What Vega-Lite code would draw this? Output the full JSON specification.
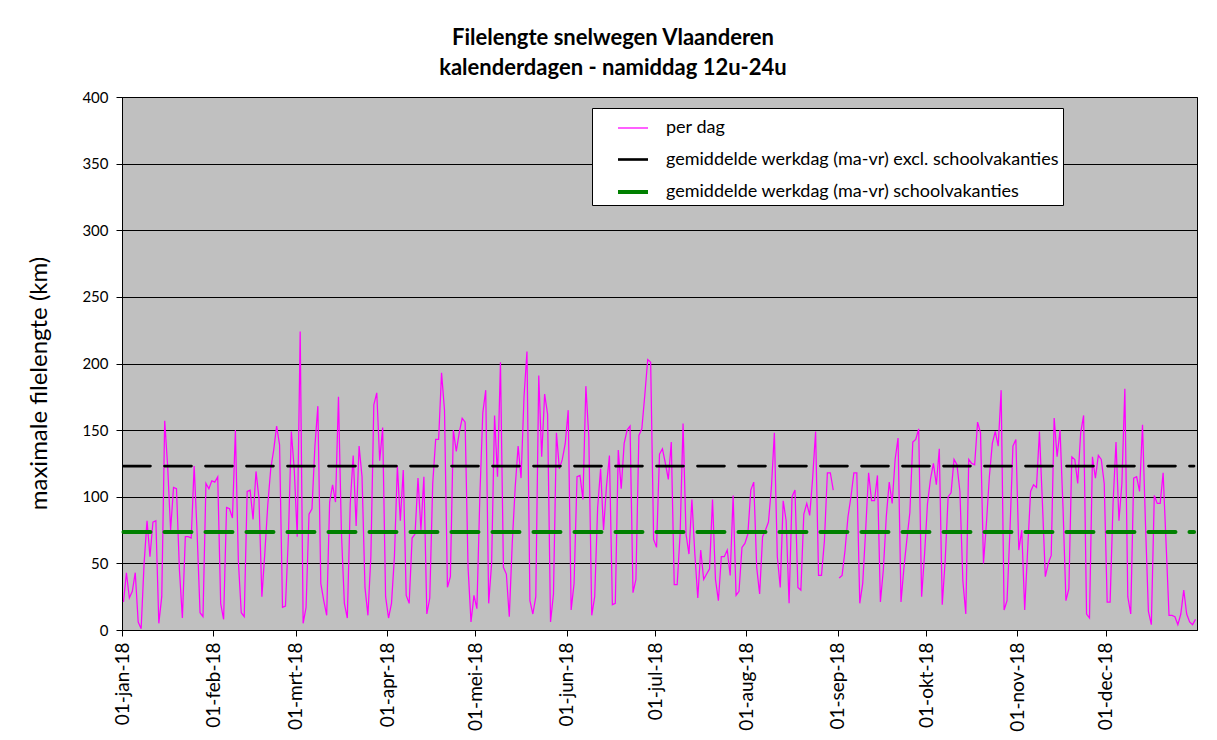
{
  "$schema": "https://vega.github.io/schema/vega-lite/v6.json",
  "width": 1075,
  "height": 533,
  "autosize": {"type": "none"},
  "padding": {"left": 122, "top": 97, "right": 20, "bottom": 110},
  "background": "white",
  "config": {
    "font": "Lato",
    "view": {"fill": "#C0C0C0", "stroke": "#000000", "strokeWidth": 1}
  },
  "title": {
    "text": ["Filelengte snelwegen Vlaanderen", "kalenderdagen - namiddag 12u-24u"],
    "fontSize": 22,
    "fontWeight": "bold",
    "font": "Lato",
    "color": "#000000",
    "anchor": "middle",
    "frame": "bounds",
    "lineHeight": 30,
    "offset": 10
  },
  "datasets": {
    "daily": [
      {"datum":"2018-01-01","km":21},{"datum":"2018-01-02","km":43},{"datum":"2018-01-03","km":24},{"datum":"2018-01-04","km":29},{"datum":"2018-01-05","km":43},{"datum":"2018-01-06","km":6},{"datum":"2018-01-07","km":1},{"datum":"2018-01-08","km":50},{"datum":"2018-01-09","km":82},{"datum":"2018-01-10","km":55},{"datum":"2018-01-11","km":81},{"datum":"2018-01-12","km":82},{"datum":"2018-01-13","km":5},{"datum":"2018-01-14","km":25},{"datum":"2018-01-15","km":157},{"datum":"2018-01-16","km":123},{"datum":"2018-01-17","km":75},{"datum":"2018-01-18","km":107},{"datum":"2018-01-19","km":106},{"datum":"2018-01-20","km":45},{"datum":"2018-01-21","km":9},{"datum":"2018-01-22","km":70},{"datum":"2018-01-23","km":70},{"datum":"2018-01-24","km":69},{"datum":"2018-01-25","km":123},{"datum":"2018-01-26","km":73},{"datum":"2018-01-27","km":13},{"datum":"2018-01-28","km":10},{"datum":"2018-01-29","km":110},{"datum":"2018-01-30","km":106},{"datum":"2018-01-31","km":112},
      {"datum":"2018-02-01","km":111},{"datum":"2018-02-02","km":115},{"datum":"2018-02-03","km":20},{"datum":"2018-02-04","km":8},{"datum":"2018-02-05","km":92},{"datum":"2018-02-06","km":91},{"datum":"2018-02-07","km":84},{"datum":"2018-02-08","km":150},{"datum":"2018-02-09","km":52},{"datum":"2018-02-10","km":13},{"datum":"2018-02-11","km":10},{"datum":"2018-02-12","km":104},{"datum":"2018-02-13","km":105},{"datum":"2018-02-14","km":83},{"datum":"2018-02-15","km":119},{"datum":"2018-02-16","km":99},{"datum":"2018-02-17","km":25},{"datum":"2018-02-18","km":58},{"datum":"2018-02-19","km":94},{"datum":"2018-02-20","km":121},{"datum":"2018-02-21","km":135},{"datum":"2018-02-22","km":153},{"datum":"2018-02-23","km":139},{"datum":"2018-02-24","km":17},{"datum":"2018-02-25","km":18},{"datum":"2018-02-26","km":70},{"datum":"2018-02-27","km":149},{"datum":"2018-02-28","km":120},
      {"datum":"2018-03-01","km":70},{"datum":"2018-03-02","km":224},{"datum":"2018-03-03","km":5},{"datum":"2018-03-04","km":17},{"datum":"2018-03-05","km":87},{"datum":"2018-03-06","km":91},{"datum":"2018-03-07","km":138},{"datum":"2018-03-08","km":168},{"datum":"2018-03-09","km":35},{"datum":"2018-03-10","km":22},{"datum":"2018-03-11","km":11},{"datum":"2018-03-12","km":96},{"datum":"2018-03-13","km":109},{"datum":"2018-03-14","km":96},{"datum":"2018-03-15","km":175},{"datum":"2018-03-16","km":73},{"datum":"2018-03-17","km":20},{"datum":"2018-03-18","km":9},{"datum":"2018-03-19","km":95},{"datum":"2018-03-20","km":131},{"datum":"2018-03-21","km":78},{"datum":"2018-03-22","km":138},{"datum":"2018-03-23","km":115},{"datum":"2018-03-24","km":32},{"datum":"2018-03-25","km":11},{"datum":"2018-03-26","km":55},{"datum":"2018-03-27","km":169},{"datum":"2018-03-28","km":178},{"datum":"2018-03-29","km":127},{"datum":"2018-03-30","km":152},{"datum":"2018-03-31","km":25},
      {"datum":"2018-04-01","km":9},{"datum":"2018-04-02","km":20},{"datum":"2018-04-03","km":55},{"datum":"2018-04-04","km":123},{"datum":"2018-04-05","km":82},{"datum":"2018-04-06","km":120},{"datum":"2018-04-07","km":26},{"datum":"2018-04-08","km":20},{"datum":"2018-04-09","km":69},{"datum":"2018-04-10","km":72},{"datum":"2018-04-11","km":114},{"datum":"2018-04-12","km":75},{"datum":"2018-04-13","km":115},{"datum":"2018-04-14","km":12},{"datum":"2018-04-15","km":24},{"datum":"2018-04-16","km":110},{"datum":"2018-04-17","km":143},{"datum":"2018-04-18","km":143},{"datum":"2018-04-19","km":193},{"datum":"2018-04-20","km":165},{"datum":"2018-04-21","km":32},{"datum":"2018-04-22","km":40},{"datum":"2018-04-23","km":150},{"datum":"2018-04-24","km":134},{"datum":"2018-04-25","km":148},{"datum":"2018-04-26","km":159},{"datum":"2018-04-27","km":156},{"datum":"2018-04-28","km":47},{"datum":"2018-04-29","km":6},{"datum":"2018-04-30","km":26},
      {"datum":"2018-05-01","km":16},{"datum":"2018-05-02","km":100},{"datum":"2018-05-03","km":163},{"datum":"2018-05-04","km":180},{"datum":"2018-05-05","km":20},{"datum":"2018-05-06","km":50},{"datum":"2018-05-07","km":161},{"datum":"2018-05-08","km":115},{"datum":"2018-05-09","km":201},{"datum":"2018-05-10","km":47},{"datum":"2018-05-11","km":42},{"datum":"2018-05-12","km":10},{"datum":"2018-05-13","km":65},{"datum":"2018-05-14","km":107},{"datum":"2018-05-15","km":138},{"datum":"2018-05-16","km":114},{"datum":"2018-05-17","km":175},{"datum":"2018-05-18","km":209},{"datum":"2018-05-19","km":22},{"datum":"2018-05-20","km":12},{"datum":"2018-05-21","km":25},{"datum":"2018-05-22","km":191},{"datum":"2018-05-23","km":130},{"datum":"2018-05-24","km":177},{"datum":"2018-05-25","km":162},{"datum":"2018-05-26","km":6},{"datum":"2018-05-27","km":27},{"datum":"2018-05-28","km":148},{"datum":"2018-05-29","km":121},{"datum":"2018-05-30","km":128},{"datum":"2018-05-31","km":140},
      {"datum":"2018-06-01","km":165},{"datum":"2018-06-02","km":15},{"datum":"2018-06-03","km":35},{"datum":"2018-06-04","km":115},{"datum":"2018-06-05","km":116},{"datum":"2018-06-06","km":98},{"datum":"2018-06-07","km":183},{"datum":"2018-06-08","km":145},{"datum":"2018-06-09","km":11},{"datum":"2018-06-10","km":25},{"datum":"2018-06-11","km":92},{"datum":"2018-06-12","km":121},{"datum":"2018-06-13","km":75},{"datum":"2018-06-14","km":108},{"datum":"2018-06-15","km":131},{"datum":"2018-06-16","km":19},{"datum":"2018-06-17","km":20},{"datum":"2018-06-18","km":135},{"datum":"2018-06-19","km":106},{"datum":"2018-06-20","km":140},{"datum":"2018-06-21","km":150},{"datum":"2018-06-22","km":153},{"datum":"2018-06-23","km":28},{"datum":"2018-06-24","km":38},{"datum":"2018-06-25","km":146},{"datum":"2018-06-26","km":151},{"datum":"2018-06-27","km":176},{"datum":"2018-06-28","km":203},{"datum":"2018-06-29","km":201},{"datum":"2018-06-30","km":68},
      {"datum":"2018-07-01","km":62},{"datum":"2018-07-02","km":132},{"datum":"2018-07-03","km":136},{"datum":"2018-07-04","km":125},{"datum":"2018-07-05","km":113},{"datum":"2018-07-06","km":141},{"datum":"2018-07-07","km":34},{"datum":"2018-07-08","km":34},{"datum":"2018-07-09","km":72},{"datum":"2018-07-10","km":155},{"datum":"2018-07-11","km":72},{"datum":"2018-07-12","km":57},{"datum":"2018-07-13","km":98},{"datum":"2018-07-14","km":57},{"datum":"2018-07-15","km":24},{"datum":"2018-07-16","km":60},{"datum":"2018-07-17","km":38},{"datum":"2018-07-18","km":42},{"datum":"2018-07-19","km":46},{"datum":"2018-07-20","km":98},{"datum":"2018-07-21","km":38},{"datum":"2018-07-22","km":22},{"datum":"2018-07-23","km":55},{"datum":"2018-07-24","km":55},{"datum":"2018-07-25","km":60},{"datum":"2018-07-26","km":41},{"datum":"2018-07-27","km":101},{"datum":"2018-07-28","km":26},{"datum":"2018-07-29","km":29},{"datum":"2018-07-30","km":62},{"datum":"2018-07-31","km":65},
      {"datum":"2018-08-01","km":72},{"datum":"2018-08-02","km":105},{"datum":"2018-08-03","km":111},{"datum":"2018-08-04","km":47},{"datum":"2018-08-05","km":27},{"datum":"2018-08-06","km":70},{"datum":"2018-08-07","km":75},{"datum":"2018-08-08","km":81},{"datum":"2018-08-09","km":107},{"datum":"2018-08-10","km":148},{"datum":"2018-08-11","km":55},{"datum":"2018-08-12","km":32},{"datum":"2018-08-13","km":97},{"datum":"2018-08-14","km":82},{"datum":"2018-08-15","km":20},{"datum":"2018-08-16","km":100},{"datum":"2018-08-17","km":105},{"datum":"2018-08-18","km":32},{"datum":"2018-08-19","km":30},{"datum":"2018-08-20","km":87},{"datum":"2018-08-21","km":95},{"datum":"2018-08-22","km":86},{"datum":"2018-08-23","km":114},{"datum":"2018-08-24","km":149},{"datum":"2018-08-25","km":41},{"datum":"2018-08-26","km":41},{"datum":"2018-08-27","km":67},{"datum":"2018-08-28","km":118},{"datum":"2018-08-29","km":118},{"datum":"2018-08-30","km":105},{"datum":"2018-08-31","km":null},
      {"datum":"2018-09-01","km":39},{"datum":"2018-09-02","km":41},{"datum":"2018-09-03","km":60},{"datum":"2018-09-04","km":85},{"datum":"2018-09-05","km":100},{"datum":"2018-09-06","km":118},{"datum":"2018-09-07","km":118},{"datum":"2018-09-08","km":20},{"datum":"2018-09-09","km":35},{"datum":"2018-09-10","km":75},{"datum":"2018-09-11","km":118},{"datum":"2018-09-12","km":97},{"datum":"2018-09-13","km":97},{"datum":"2018-09-14","km":116},{"datum":"2018-09-15","km":21},{"datum":"2018-09-16","km":45},{"datum":"2018-09-17","km":85},{"datum":"2018-09-18","km":111},{"datum":"2018-09-19","km":95},{"datum":"2018-09-20","km":128},{"datum":"2018-09-21","km":144},{"datum":"2018-09-22","km":21},{"datum":"2018-09-23","km":47},{"datum":"2018-09-24","km":68},{"datum":"2018-09-25","km":88},{"datum":"2018-09-26","km":141},{"datum":"2018-09-27","km":143},{"datum":"2018-09-28","km":151},{"datum":"2018-09-29","km":25},{"datum":"2018-09-30","km":57},
      {"datum":"2018-10-01","km":95},{"datum":"2018-10-02","km":113},{"datum":"2018-10-03","km":125},{"datum":"2018-10-04","km":109},{"datum":"2018-10-05","km":136},{"datum":"2018-10-06","km":19},{"datum":"2018-10-07","km":52},{"datum":"2018-10-08","km":100},{"datum":"2018-10-09","km":103},{"datum":"2018-10-10","km":128},{"datum":"2018-10-11","km":124},{"datum":"2018-10-12","km":104},{"datum":"2018-10-13","km":37},{"datum":"2018-10-14","km":12},{"datum":"2018-10-15","km":128},{"datum":"2018-10-16","km":125},{"datum":"2018-10-17","km":124},{"datum":"2018-10-18","km":156},{"datum":"2018-10-19","km":148},{"datum":"2018-10-20","km":50},{"datum":"2018-10-21","km":80},{"datum":"2018-10-22","km":115},{"datum":"2018-10-23","km":140},{"datum":"2018-10-24","km":149},{"datum":"2018-10-25","km":138},{"datum":"2018-10-26","km":180},{"datum":"2018-10-27","km":15},{"datum":"2018-10-28","km":22},{"datum":"2018-10-29","km":75},{"datum":"2018-10-30","km":138},{"datum":"2018-10-31","km":143},
      {"datum":"2018-11-01","km":60},{"datum":"2018-11-02","km":75},{"datum":"2018-11-03","km":15},{"datum":"2018-11-04","km":60},{"datum":"2018-11-05","km":104},{"datum":"2018-11-06","km":109},{"datum":"2018-11-07","km":107},{"datum":"2018-11-08","km":149},{"datum":"2018-11-09","km":96},{"datum":"2018-11-10","km":40},{"datum":"2018-11-11","km":50},{"datum":"2018-11-12","km":56},{"datum":"2018-11-13","km":159},{"datum":"2018-11-14","km":130},{"datum":"2018-11-15","km":150},{"datum":"2018-11-16","km":92},{"datum":"2018-11-17","km":22},{"datum":"2018-11-18","km":31},{"datum":"2018-11-19","km":130},{"datum":"2018-11-20","km":128},{"datum":"2018-11-21","km":110},{"datum":"2018-11-22","km":148},{"datum":"2018-11-23","km":161},{"datum":"2018-11-24","km":12},{"datum":"2018-11-25","km":9},{"datum":"2018-11-26","km":130},{"datum":"2018-11-27","km":114},{"datum":"2018-11-28","km":131},{"datum":"2018-11-29","km":128},{"datum":"2018-11-30","km":110},
      {"datum":"2018-12-01","km":21},{"datum":"2018-12-02","km":21},{"datum":"2018-12-03","km":95},{"datum":"2018-12-04","km":141},{"datum":"2018-12-05","km":82},{"datum":"2018-12-06","km":110},{"datum":"2018-12-07","km":181},{"datum":"2018-12-08","km":25},{"datum":"2018-12-09","km":12},{"datum":"2018-12-10","km":114},{"datum":"2018-12-11","km":115},{"datum":"2018-12-12","km":104},{"datum":"2018-12-13","km":154},{"datum":"2018-12-14","km":80},{"datum":"2018-12-15","km":14},{"datum":"2018-12-16","km":4},{"datum":"2018-12-17","km":101},{"datum":"2018-12-18","km":95},{"datum":"2018-12-19","km":95},{"datum":"2018-12-20","km":118},{"datum":"2018-12-21","km":65},{"datum":"2018-12-22","km":11},{"datum":"2018-12-23","km":11},{"datum":"2018-12-24","km":10},{"datum":"2018-12-25","km":4},{"datum":"2018-12-26","km":12},{"datum":"2018-12-27","km":30},{"datum":"2018-12-28","km":12},{"datum":"2018-12-29","km":6},{"datum":"2018-12-30","km":4},{"datum":"2018-12-31","km":8}
    ],
    "gemiddelden": [
      {"serie": "gemiddelde werkdag (ma-vr) excl. schoolvakanties", "van": "2018-01-01", "tot": "2018-12-31", "km": 123},
      {"serie": "gemiddelde werkdag (ma-vr) schoolvakanties", "van": "2018-01-01", "tot": "2018-12-31", "km": 73.5}
    ]
  },
  "layer": [
    {
      "data": {"name": "daily"},
      "mark": {"type": "line", "invalid": "break-paths-show-domains", "strokeJoin": "miter"},
      "encoding": {
        "x": {
          "field": "datum",
          "type": "temporal",
          "timeUnit": "utcyearmonthdate",
          "bandPosition": 0.5,
          "scale": {
            "type": "utc",
            "domain": [
              {"year": 2018, "month": 1, "date": 1, "utc": true},
              {"year": 2019, "month": 1, "date": 1, "utc": true}
            ]
          },
          "axis": {
            "title": null,
            "values": [
              {"year": 2018, "month": 1, "date": 1, "utc": true},
              {"year": 2018, "month": 2, "date": 1, "utc": true},
              {"year": 2018, "month": 3, "date": 1, "utc": true},
              {"year": 2018, "month": 4, "date": 1, "utc": true},
              {"year": 2018, "month": 5, "date": 1, "utc": true},
              {"year": 2018, "month": 6, "date": 1, "utc": true},
              {"year": 2018, "month": 7, "date": 1, "utc": true},
              {"year": 2018, "month": 8, "date": 1, "utc": true},
              {"year": 2018, "month": 9, "date": 1, "utc": true},
              {"year": 2018, "month": 10, "date": 1, "utc": true},
              {"year": 2018, "month": 11, "date": 1, "utc": true},
              {"year": 2018, "month": 12, "date": 1, "utc": true}
            ],
            "labelExpr": "'01-' + ['jan','feb','mrt','apr','mei','jun','jul','aug','sep','okt','nov','dec'][utcmonth(datum.value)] + '-' + utcFormat(datum.value, '%y')",
            "labelAngle": 270,
            "labelAlign": "right",
            "labelBaseline": "middle",
            "labelFontSize": 19,
            "labelFont": "Lato",
            "labelColor": "#000000",
            "labelPadding": 6,
            "labelOverlap": false,
            "labelFlush": false,
            "grid": false,
            "ticks": true,
            "tickSize": 6,
            "tickColor": "#000000",
            "domainColor": "#000000"
          }
        },
        "y": {
          "field": "km",
          "type": "quantitative",
          "scale": {"domain": [0, 400], "nice": false, "zero": true},
          "axis": {
            "title": "maximale filelengte (km)",
            "titleFontSize": 24,
            "titleFontWeight": "normal",
            "titleFont": "Lato",
            "titleColor": "#000000",
            "titlePadding": 30,
            "titleY": 286,
            "values": [0, 50, 100, 150, 200, 250, 300, 350, 400],
            "labelFontSize": 15,
            "labelFont": "Lato",
            "labelColor": "#000000",
            "labelPadding": 8,
            "grid": true,
            "gridColor": "#000000",
            "gridWidth": 1,
            "gridOpacity": 1,
            "tickSize": 6,
            "tickColor": "#000000",
            "domainColor": "#000000"
          }
        },
        "color": {
          "datum": "per dag",
          "type": "nominal",
          "title": null,
          "scale": {
            "domain": ["per dag", "gemiddelde werkdag (ma-vr) excl. schoolvakanties", "gemiddelde werkdag (ma-vr) schoolvakanties"],
            "range": ["#FF00FF", "#000000", "#008000"]
          },
          "legend": {
            "title": "\u00a0",
            "titleOrient": "right",
            "titleFontSize": 18,
            "titlePadding": 14,
            "orient": "none",
            "legendX": 470,
            "legendY": 11,
            "fillColor": "#FFFFFF",
            "strokeColor": "#000000",
            "padding": 4,
            "symbolType": "stroke",
            "symbolSize": 900,
            "symbolOffset": 20,
            "labelOffset": 16,
            "labelFontSize": 18,
            "labelFont": "Lato",
            "labelColor": "#000000",
            "labelLimit": 700,
            "rowPadding": 6
          }
        },
        "strokeWidth": {
          "datum": "per dag",
          "type": "ordinal",
          "title": null,
          "scale": {
            "domain": ["per dag", "gemiddelde werkdag (ma-vr) excl. schoolvakanties", "gemiddelde werkdag (ma-vr) schoolvakanties"],
            "range": [1.25, 4, 4]
          },
          "legend": null
        }
      }
    },
    {
      "data": {"name": "gemiddelden"},
      "mark": {"type": "rule", "strokeDash": [27, 14], "strokeCap": "round"},
      "encoding": {
        "x": {"field": "van", "type": "temporal", "timeUnit": "utcyearmonthdate", "bandPosition": 0.5},
        "x2": {"field": "tot"},
        "y": {"field": "km", "type": "quantitative"},
        "color": {"field": "serie", "type": "nominal", "title": null},
        "strokeWidth": {"field": "serie", "type": "ordinal", "title": null}
      }
    }
  ]
}
